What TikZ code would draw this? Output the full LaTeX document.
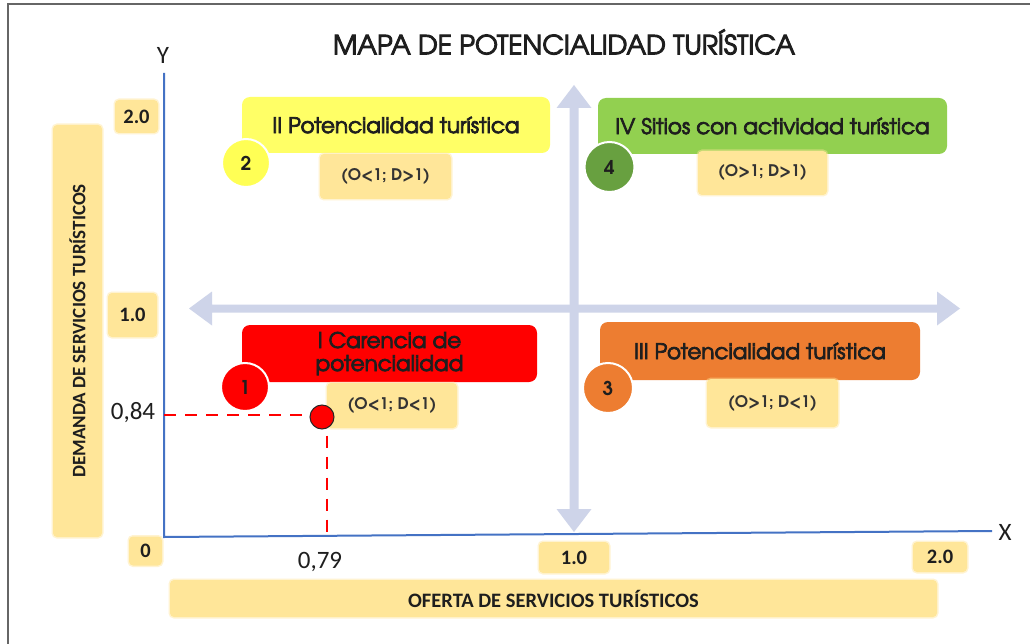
\documentclass[tikz,border=0pt]{standalone}
\usepackage{fontspec}
\setmainfont{Carlito}
\newfontfamily\gothic{texgyreadventor-regular.otf}[FakeBold=3.5]
\newfontfamily\gothicb{texgyreadventor-bold.otf}
\definecolor{tanc}{HTML}{FFE699}
\definecolor{lav}{HTML}{CED4E9}
\definecolor{axisblue}{HTML}{4472C4}
\definecolor{ylw}{HTML}{FFFF66}
\definecolor{ylwc}{HTML}{FFFF55}
\definecolor{grn}{HTML}{92D050}
\definecolor{grnc}{HTML}{68A040}
\definecolor{orng}{HTML}{ED7D31}
\definecolor{txt}{HTML}{1E1E1E}
\tikzset{
  tanbox/.style={fill=tanc, draw=tanc, draw opacity=0.45, line width=3pt, rounded corners=4pt, inner sep=0pt, text=txt, font=\bfseries\fontsize{16}{19}\selectfont},
  condbox/.style={tanbox, text=black!80, font=\gothicb\fontsize{16}{19}\selectfont},
  quadbox/.style={rounded corners=8pt, inner sep=0pt, align=center, text=txt, font=\gothic\fontsize{21.5}{23}\selectfont},
  numcirc/.style={circle, draw=white, line width=2pt, inner sep=0pt, text=txt, font=\gothicb\fontsize{19}{22}\selectfont},
  ticklab/.style={tanbox, font=\bfseries\fontsize{20.5}{24}\selectfont},
  axlab/.style={text=txt, font=\fontsize{25}{29}\selectfont},
  dashline/.style={red, line width=1.8pt, dash pattern=on 12pt off 9pt}
}
\begin{document}
\begin{tikzpicture}[x=1pt,y=-1pt]
\useasboundingbox (0,0) rectangle (1030,644);
\fill[white] (0,0) rectangle (1030,644);
\draw[black!60, line width=1.5pt] (8,644) -- (8,4) -- (1030,4);

% title
\node[text=txt, font=\gothic\fontsize{26.5}{30}\selectfont] (title) at (564,42) {MAPA DE POTENCIALIDAD TURÍSTICA};

% axis side labels
\node[tanbox, minimum width=412, minimum height=49, rotate=90, font=\bfseries\fontsize{19}{22}\selectfont] (dem) at (77.5,331) {DEMANDA DE SERVICIOS TURÍSTICOS};
\node[tanbox, minimum width=767, minimum height=37, font=\bfseries\fontsize{20.5}{23}\selectfont] (ofe) at (553.5,598.5) {OFERTA DE SERVICIOS TURÍSTICOS};

% tick labels
\node[ticklab, minimum width=43, minimum height=33] (y2) at (136.5,116.5) {2.0};
\node[ticklab, minimum width=49, minimum height=44] (y1) at (132.5,315) {1.0};
\node[ticklab, minimum width=33, minimum height=29] (y0) at (145.5,551) {0};
\node[ticklab, minimum width=70, minimum height=31] (x1) at (574,557.5) {1.0};
\node[ticklab, minimum width=54, minimum height=30] (x2) at (940,557) {2.0};

% lavender cross arrows
\fill[lav] (574,85) -- (591.5,108) -- (578.5,108) -- (578.5,509) -- (591.5,509) -- (574,532)
  -- (556.5,509) -- (569.5,509) -- (569.5,108) -- (556.5,108) -- cycle;
\fill[lav] (189,308.5) -- (212,291.5) -- (212,304.5) -- (937,304.5) -- (937,291.5) -- (960,308.5)
  -- (937,325.5) -- (937,312.5) -- (212,312.5) -- (212,325.5) -- cycle;

% axes
\coordinate (O) at (164,537);
\coordinate (Ytop) at (164,73);
\coordinate (Xend) at (992,531);
\draw[axisblue, line width=2pt] (Ytop) -- (O) -- (Xend);
\node[axlab] (ylab) at (163,55) {Y};
\node[axlab] (xlab) at (1005,532) {X};

% quadrant boxes
\node[quadbox, fill=ylw, minimum width=308, minimum height=56] (q2) at (396,125) {II Potencialidad turística};
\node[quadbox, fill=grn, minimum width=349, minimum height=56] (q4) at (772.5,126) {IV Sitios con actividad turística};
\node[quadbox, fill=red, minimum width=295, minimum height=57] (q1) at (389.5,353.5) {I Carencia de\\potencialidad};
\node[quadbox, fill=orng, minimum width=320, minimum height=58] (q3) at (760,351) {III Potencialidad turística};

% condition boxes
\node[condbox, minimum width=131, minimum height=45] (c2) at (385.5,176.5) {(O<1; D>1)};
\node[condbox, minimum width=129, minimum height=44] (c4) at (762.5,173) {(O>1; D>1)};
\node[condbox, minimum width=130, minimum height=45] (c1) at (392,405.5) {(O<1; D<1)};
\node[condbox, minimum width=131, minimum height=48] (c3) at (772.5,403) {(O>1; D<1)};

% number circles
\node[numcirc, fill=ylwc, minimum size=48] (n2) at (246,163) {2};
\node[numcirc, fill=grnc, minimum size=50] (n4) at (609.5,167) {4};
\node[numcirc, fill=red, minimum size=48] (n1) at (245,387) {1};
\node[numcirc, fill=orng, minimum size=50] (n3) at (608,388) {3};

% data point
\node[circle, fill=red, draw=black!85, line width=1pt, minimum size=24, inner sep=0pt] (pt) at (322,417) {};
\coordinate (hx) at (164,415);
\coordinate (vx) at (327,537);
\draw[dashline] (hx) -- (hx -| pt.west);
\draw[dashline] (vx |- pt.south) ++(0,6) -- (vx);
\node[axlab] (v84) at (133,413) {0,84};
\node[axlab] (v79) at (320,562) {0,79};
\end{tikzpicture}
\end{document}
